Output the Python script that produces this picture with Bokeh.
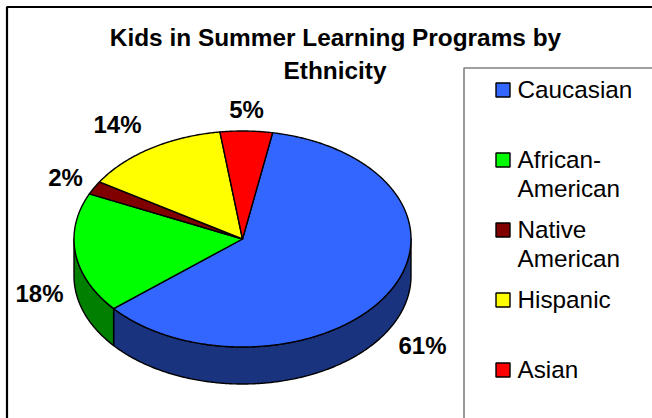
import math
from bokeh.core.properties import value
from bokeh.embed import file_html
from bokeh.models import ColumnDataSource, Range1d
from bokeh.plotting import figure
from bokeh.resources import INLINE

# Share of kids in summer learning programs, in percent
categories = ["Caucasian", "African-American", "Native American", "Hispanic", "Asian"]
shares = [61, 18, 2, 14, 5]
title_lines = ["Kids in Summer Learning Programs by", "Ethnicity"]

top_colors = ["#3366FF", "#00FF00", "#800000", "#FFFF00", "#FF0000"]
wall_colors = ["#19337F", "#007F00", "#400000", "#7F7F00", "#7F0000"]

# Tilted pie geometry, in page pixels
CX, CY, RX, RY, DEPTH = 242, 238.5, 168.5, 108, 37
START_ANGLE = 10.3  # degrees clockwise from twelve o'clock
FONT = value("Liberation Sans")

W, H = 652, 418
p = figure(width=W, height=H, output_backend="svg", toolbar_location=None,
           x_range=Range1d(0, W), y_range=Range1d(H, 0),
           min_border=0, outline_line_color=None, background_fill_color="white",
           border_fill_color="white")
p.axis.visible = False
p.grid.visible = False


def rim(a, drop=0.0):
    t = math.radians(a)
    return CX + RX * math.sin(t), CY - RY * math.cos(t) + drop


def arc(a0, a1, drop=0.0):
    n = max(2, int(abs(a1 - a0) * 2) + 1)
    return [rim(a0 + (a1 - a0) * i / (n - 1), drop) for i in range(n)]


# Convert shares into clockwise angle spans
spans = []
angle = START_ANGLE
for share in shares:
    sweep = share * 3.6
    spans.append((angle, angle + sweep))
    angle += sweep

# Chart frame along the top and left, legend box running off the page
p.line([6.5, 6.5, W], [H, 6.5, 6.5], line_color="black", line_width=2.2)
p.line([463.5, 463.5, W], [H, 67.5, 67.5], line_color="#808080", line_width=1.6)

# Side wall: only the part of the rim facing the viewer (90 to 270 degrees)
for (a0, a1), wall in zip(spans, wall_colors):
    lo, hi = max(a0, 90), min(a1, 270)
    if lo >= hi:
        continue
    upper = arc(lo, hi)
    lower = arc(hi, lo, DEPTH)
    pts = upper + lower
    p.patch([q[0] for q in pts], [q[1] for q in pts], fill_color=wall,
            line_color="black", line_width=1.4, line_join="round")

# Top face of the pie
for (a0, a1), color in zip(spans, top_colors):
    pts = [(CX, CY)] + arc(a0, a1)
    p.patch([q[0] for q in pts], [q[1] for q in pts], fill_color=color,
            line_color="black", line_width=1.4, line_join="round")

# Percentage labels, one per slice
label_x = [422, 39, 65, 117, 246]
label_y = [345, 293, 177, 123.5, 109]
p.text(x=label_x, y=label_y, text=[f"{s}%" for s in shares],
       text_font=FONT, text_font_style="bold", text_font_size="24px",
       text_align="center", text_baseline="middle", text_color="black")

# Title
p.text(x=[335, 334.5], y=[36.5, 70], text=title_lines,
       text_font=FONT, text_font_style="bold", text_font_size="24.4px",
       text_align="center", text_baseline="middle", text_color="black")

# Legend swatches
swatch_y = [89.5, 159.5, 229.5, 299.5, 369.5]
p.rect(x=[502.5] * len(categories), y=swatch_y, width=14, height=14,
       fill_color=top_colors, line_color="black", line_width=1.4)

# Legend text, wrapped the way the box forces it
legend_lines = [["Caucasian"], ["African-", "American"], ["Native", "American"],
                ["Hispanic"], ["Asian"]]
xs, ys, ts = [], [], []
for lines, y0 in zip(legend_lines, swatch_y):
    for i, line in enumerate(lines):
        xs.append(517)
        ys.append(y0 - 1 + i * 29.5)
        ts.append(line)
legend_src = ColumnDataSource(data=dict(x=xs, y=ys, t=ts))
p.text(x="x", y="y", text="t", source=legend_src, text_font=FONT,
       text_font_size="24.3px", text_align="left", text_baseline="middle",
       text_color="black")

open("out.html", "w").write(file_html(p, INLINE))
